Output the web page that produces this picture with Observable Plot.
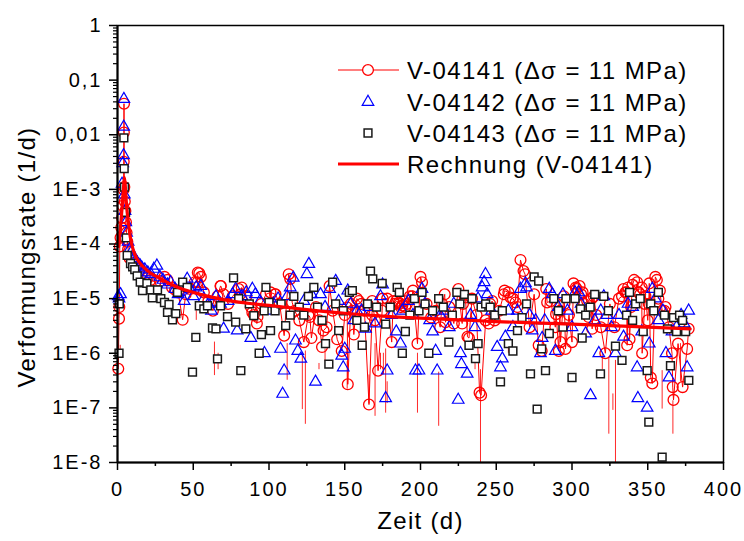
<!DOCTYPE html>
<html><head><meta charset="utf-8">
<script src="https://cdn.jsdelivr.net/npm/d3@7"></script>
<script src="https://cdn.jsdelivr.net/npm/@observablehq/plot@0.6"></script>
<style>
body{margin:0;background:#fff;}
#wrap{position:relative;width:744px;height:541px;}
#legend{position:absolute;left:0;top:0;pointer-events:none;}
svg text{font-family:"Liberation Sans",Arial,sans-serif;}
g[aria-label="x-axis tick label"] text, g[aria-label="y-axis tick label"] text{letter-spacing:2px;}
g[aria-label="text"] text{letter-spacing:1.3px;}
#legend text{letter-spacing:1.4px;font-size:24px;fill:#000;}
</style></head><body><div id="wrap"></div>
<script>
// V-04141 (red circles): [Zeit d, Verformungsrate 1/d]
const v04141 = [[0.5,5.2e-7],[1,4.3e-6],[1.2,7e-6],[1.5,9e-5],[2,1.3e-4],[2.5,2e-4],[3,3e-4],[3.5,5e-4],[4,1e-3],[4.1,3.2e-3],[4.2,1.1e-2],[4.3,3.7e-2],[4.5,1.1e-3],[4.8,6e-4],[5.2,4e-4],[5.6,2.5e-4],[6,1.6e-4],[6.5,1.1e-4],[7,8e-5],[8,5.5e-5],[10,4.5e-5],[12,3.8e-5],[14,3.2e-5],[16,2.8e-5],[18,2.6e-5],[20,2.4e-5],[22,2.2e-5],[25,2e-5],[28,2.1e-5],[31,2.5e-5],[33,2.2e-5],[36,1.6e-5],[38,1.45e-5],[40,1.3e-5],[43,4.1e-6],[45,1.2e-5],[48,1.5e-5],[51,2e-5],[52.8,2e-5],[53,3e-5],[54,2.9e-5],[55,2.5e-5],[57,1.3e-5],[60,9e-6],[63,6e-6],[66,1.1e-5],[68,1.7e-5],[68.2,1.7e-5],[70,1.2e-5],[73,8e-6],[76,1.1e-5],[80,1.5e-5],[81,1.2e-5],[82,1.6e-5],[85,1.1e-5],[88,7e-6],[89,5.6e-6],[90,5e-6],[92,3.5e-6],[92.4,4.6e-6],[95,8e-6],[98,1.2e-5],[101,1.3e-5],[104,1.2e-5],[104.3,1.2e-5],[107,8e-6],[110,2.1e-6],[113,2.8e-5],[114,2.3e-5],[115.3,8.5e-6],[117,6e-6],[120,4e-6],[123,1.6e-6],[126,5e-6],[127,4.6e-6],[128,1.9e-6],[131,7e-6],[133,4e-6],[135,1.3e-6],[136,2.6e-6],[138,3e-6],[140,1.7e-5],[142,6e-6],[145,1.8e-6],[148,1.1e-6],[150,5e-6],[151.6,6.9e-6],[152,2.7e-7],[154,8e-6],[155,6e-6],[156,2.2e-6],[158,1e-5],[159.3,9e-6],[161,8e-6],[163,6e-6],[166,1.15e-7],[168,5e-6],[168.1,9e-6],[170,4e-6],[172,4.8e-7],[174.7,6e-6],[175,1e-5],[178,1e-5],[181,1.6e-6],[182,9e-6],[183,8e-6],[184,9e-6],[185.7,8.5e-6],[186,8e-6],[187,7e-6],[188,7.5e-6],[189,9e-6],[190,7e-6],[191,8e-6],[193,1.1e-5],[194.5,1.1e-5],[195,1.4e-5],[198,1.5e-6],[200,2.5e-5],[201,2e-5],[204,8e-6],[207,4.5e-6],[210,6e-6],[213,3e-6],[214.3,8e-6],[216,1.2e-5],[216.5,3.7e-6],[219,7e-6],[222,3.5e-6],[225,1.5e-5],[227.5,3.5e-6],[228,8e-6],[229.7,1.05e-5],[231,2e-6],[232,1.9e-6],[234,1e-5],[237,5e-6],[239,1.9e-7],[240,1.7e-7],[243,4e-6],[245,3.5e-6],[246,8e-6],[247.3,9e-6],[249,4e-6],[252,6e-6],[255,1.2e-5],[255.5,1.4e-5],[258,1.3e-5],[259.4,1.05e-5],[261,1e-5],[262.7,8.5e-6],[264,7e-6],[266,5.1e-5],[268,3.2e-5],[269,2.8e-5],[272,3e-6],[275,1.2e-5],[278,1.4e-6],[280,1.1e-6],[283,1.5e-5],[283.6,8.5e-6],[286,9e-6],[289,3e-6],[289.5,5.2e-6],[291.3,1.1e-6],[292,6e-6],[292.4,1.6e-6],[294.6,1.1e-5],[295,8e-6],[295.7,1.2e-6],[298,5e-6],[300,1.6e-6],[301,1.9e-5],[302.5,1.6e-5],[303,1.5e-5],[305,1.7e-5],[306,1.2e-5],[307,1.3e-5],[308,8e-6],[310,9e-6],[311,4.6e-6],[313,1e-5],[313.3,2.8e-6],[314.4,1.1e-5],[316,5e-6],[319,3e-6],[322,1e-6],[325,8e-6],[328,3e-6],[331,1e-5],[333,1.1e-5],[334,1.5e-5],[335.3,1.3e-5],[336,1.3e-5],[336.4,1.4e-6],[337,1.6e-5],[338,1.8e-6],[339,7e-6],[340,1.8e-5],[341,2.2e-5],[343,2e-5],[344,1.3e-5],[345,1.2e-5],[346,1.6e-5],[346.3,1e-6],[348,8e-6],[348.5,1.1e-5],[350,4e-6],[350.7,8e-6],[351,1.9e-5],[352,3.6e-7],[353,2.8e-7],[355,2.5e-5],[356,2.2e-5],[357,1e-5],[358,1.4e-5],[359.5,6e-6],[361,6e-6],[361.7,7e-6],[364,3e-6],[366,1e-6],[366.5,2.4e-7],[367,1.4e-7],[370,1.5e-6],[373,2.4e-7],[376,1.2e-6],[377,2.8e-6]];

// V-04142 (blue triangles)
const v04142 = [[0.5,1.1e-5],[1,1e-5],[2,1.2e-5],[3,1.26e-3],[3.5,3e-3],[4,4.2e-3],[4.1,1.4e-2],[4.2,4.5e-2],[4.5,8e-4],[5,4e-4],[5.5,2.5e-4],[6,1.6e-4],[7,1.1e-4],[8,8e-5],[9,7e-5],[10,6e-5],[11,5.5e-5],[12,5e-5],[13,4.6e-5],[14,4.2e-5],[15,4e-5],[16,3.7e-5],[18,3.4e-5],[20,3e-5],[22,2.8e-5],[24,3.5e-5],[26,4e-5],[28,2.5e-5],[30,2.2e-5],[33,1.8e-5],[35,2e-5],[38,1.5e-5],[40,1.2e-5],[42,1.4e-5],[44,9e-6],[46,2.3e-5],[48,1.5e-5],[50,1.1e-5],[52,1.6e-5],[55,1.7e-5],[57,1e-5],[60,8e-6],[62,6e-6],[65,1.1e-5],[68,8e-6],[70,2.8e-6],[73,9e-6],[76,1.2e-5],[78,1.5e-5],[79,2.6e-6],[82,1.1e-5],[85,1.3e-5],[88,1.9e-6],[89,1.5e-5],[91,1.2e-5],[94,9e-6],[97,1e-6],[100,6e-6],[103,8e-6],[106,1e-5],[107.6,1.2e-6],[109,1.8e-7],[110,4.8e-7],[112,1.1e-5],[114,1.6e-5],[116,2.4e-5],[117.5,1.7e-6],[119,1.1e-6],[121,7.9e-7],[123,9e-6],[125,2.8e-5],[126.3,4.3e-5],[128,1.2e-5],[130.7,3e-7],[134,1.2e-5],[137,7e-6],[140,1.5e-5],[144,2.1e-5],[146,9e-6],[148,9e-7],[149,5.5e-7],[150,1.2e-6],[152,1.4e-5],[154,8e-6],[156,4e-6],[158,6e-6],[161,6e-6],[163.7,2.8e-6],[166,7e-6],[170,3.5e-6],[173.6,1.1e-5],[175,1.8e-5],[177,1.5e-7],[178,4.8e-7],[181,5e-6],[184,2.5e-6],[186.8,1.5e-6],[188,6e-6],[192,9e-6],[195,5e-6],[196.7,4.8e-7],[199,4.8e-7],[201,1.5e-5],[203,8e-6],[206,4e-6],[208,2.5e-6],[210,1.1e-6],[211,4.8e-7],[213,5e-6],[216,6e-6],[219,3e-6],[222,8e-6],[224.9,1.4e-7],[226.4,1e-6],[227,6.3e-7],[230.8,4.2e-7],[233,5e-6],[236,3e-6],[238,1e-5],[240.7,1.6e-5],[242,2e-5],[242.9,2.8e-5],[244,1.2e-5],[247,6e-6],[250.6,1.3e-6],[252.8,5.5e-7],[254,8e-7],[256,2e-6],[258,6e-6],[261,3e-6],[264,6e-6],[266,1.5e-5],[269.3,1.9e-5],[270,1.6e-5],[272,5e-6],[273.7,2.6e-6],[276,4e-6],[279.2,1e-6],[280.3,1.9e-6],[282,4e-6],[285,1.5e-5],[287,1.2e-5],[289,1.1e-6],[291,7e-6],[294,1.2e-5],[297,6e-6],[300,3e-6],[302,1.3e-5],[304.5,1.3e-5],[306,8e-6],[309,2.3e-6],[312.2,1.7e-7],[315,4e-6],[317.7,1e-6],[319,6e-6],[321,1.1e-5],[323,5e-6],[326,3e-6],[328.7,1e-6],[331,5e-6],[334,2e-6],[337,8e-6],[340,7e-6],[343,5.5e-7],[343.5,1.5e-7],[346,2.5e-6],[349.6,1e-7],[351,1.5e-6],[353,1.5e-5],[355,1e-5],[357,4e-6],[360,6e-6],[362,1e-6],[364,3.6e-7],[366,2.5e-6],[369,3e-6],[372,5e-6],[374,3.5e-6],[376,5.5e-7],[377,6e-6]];

// V-04143 (black squares)
const v04143 = [[1,1e-6],[1.2,8e-6],[4.2,8.8e-3],[4.4,2.4e-3],[4.6,1.1e-3],[5.3,3.8e-4],[5.8,1.3e-4],[6.4,6.2e-5],[8.6,4.4e-5],[10,3.8e-5],[11.4,3.4e-5],[13,2.6e-5],[15,2e-5],[16.5,1.4e-5],[19.4,1.9e-5],[22,1.45e-5],[23,1.03e-5],[26.4,1.45e-5],[28.6,1e-5],[31,8.5e-6],[33,5.6e-6],[34,7.8e-6],[36.3,4.1e-6],[38.5,5.3e-6],[39.6,1.3e-5],[43,2e-5],[46,1.6e-5],[49.5,4.5e-7],[51.7,1.95e-6],[54,7.4e-6],[57,6.5e-6],[59.4,7.4e-6],[62.7,2.9e-6],[65,2.8e-6],[66,7.9e-7],[68,7.4e-6],[72.6,4.7e-6],[76.6,2.4e-5],[78,3.7e-6],[80,1e-5],[81.4,4.8e-7],[84.7,2.8e-6],[87,8e-6],[90,4.9e-6],[93.5,1e-6],[95,2.2e-6],[96.8,6e-6],[98,1.6e-5],[100,8.5e-6],[101,2.6e-6],[104,6e-6],[108,8e-6],[111,3.2e-6],[114,5e-6],[116.4,1.1e-5],[120,7e-6],[123,5e-6],[126,1.1e-5],[129.6,1.6e-5],[132,7e-6],[135,4e-6],[137.3,1.5e-6],[139.5,6.3e-7],[142,2e-5],[144,8e-6],[146,2.6e-6],[149,6e-6],[153,1.3e-5],[155,1.4e-5],[158,4e-6],[161.5,1.4e-6],[163,3e-6],[165,8e-6],[167,3.2e-5],[168.5,2.3e-5],[171,7e-6],[174.7,1.9e-5],[177,3.4e-6],[180,7e-6],[184.6,1.6e-5],[186,1.3e-5],[188,1e-6],[190,2.5e-6],[193,5e-6],[196,1e-5],[199,6e-6],[201,1.3e-5],[203,8e-6],[205.5,1e-6],[208,6e-6],[212,1e-5],[215,7e-6],[218.7,1.6e-6],[221,5e-6],[224,1.3e-5],[226,8e-6],[229,1.2e-5],[232,1.4e-6],[234,1e-5],[236.3,8e-7],[238,1.5e-6],[240,7e-6],[243,8e-6],[246,7e-6],[249,5e-6],[252.8,3e-7],[254,6e-6],[258,1.5e-6],[261,1.1e-6],[264,2.6e-6],[267,4.5e-6],[270,8e-6],[272.6,4.2e-7],[275,2.5e-5],[277,9.5e-8],[278,2.1e-5],[280,1.2e-6],[282.5,4.8e-7],[285,2.3e-6],[288,1e-5],[291,6e-6],[294,3e-6],[296,1e-5],[300,3.6e-7],[302,1e-5],[305.6,6.5e-6],[306.7,1.9e-6],[309,5e-6],[312,7e-6],[315,1.2e-5],[318.8,4.2e-7],[321,1.1e-5],[324,6e-6],[328.7,1.35e-6],[333,7.4e-7],[336,5e-6],[338,1.3e-5],[340,4e-6],[342,8e-6],[345,1e-5],[347,2.5e-6],[349.6,4.8e-7],[350.7,5.5e-8],[352,8e-6],[354,6e-6],[357,1.3e-5],[359.5,1.25e-8],[361,5e-6],[363,2.8e-6],[365,5.9e-7],[367,4.5e-6],[369,2.5e-6],[371,5e-6],[373,4e-6],[375,2.5e-6],[377.1,3.2e-7]];

// Rechnung (V-04141)
const rechnung = [[0.8,9e-5],[1.5,1.5e-4],[2.5,3e-4],[3.5,7e-4],[4.2,1.3e-3],[4.6,1.65e-3],[5.2,1.1e-3],[6,5e-4],[7,2.7e-4],[8,1.6e-4],[9,1.1e-4],[10,8.5e-5],[11,7e-5],[12.5,5.6e-5],[15,4.4e-5],[20,3.2e-5],[25,2.6e-5],[30,2.2e-5],[35,1.85e-5],[40,1.6e-5],[50,1.3e-5],[60,1.1e-5],[70,9.6e-6],[80,8.6e-6],[90,8e-6],[100,7.5e-6],[125,6.3e-6],[150,5.4e-6],[175,4.8e-6],[200,4.4e-6],[225,4.1e-6],[250,3.8e-6],[275,3.6e-6],[300,3.4e-6],[325,3.2e-6],[350,3e-6],[378,2.8e-6]];

// thin red line segments of V-04141 dropping towards non-positive values: [x, top, bottom]
const spikes = [[1.8,1.4e-6,1e-6],[52,6e-6,4e-6],[64,1.6e-6,3.9e-7],[66.4,1e-6,5e-7],[112,1.5e-6,3.2e-7],[122,1e-6,9.3e-8],[124,1.1e-6,5e-8],[133,6.5e-7,5e-7],[137,1.2e-6,7e-7],[151.6,7e-7,2.2e-7],[166,4e-7,1.2e-7],[170,1.5e-6,7e-8],[173.6,1e-6,5e-7],[175.5,1e-6,4e-7],[177,1.2e-6,8e-8],[178,3e-7,1.2e-7],[198,1e-6,8e-8],[212,4.5e-7,4.6e-8],[236,8e-7,5e-7],[239.6,5e-7,1e-8],[258,1.5e-6,1e-6],[320,1e-6,5e-7],[324.3,8.5e-7,3.3e-8],[327,1.8e-7,9e-8],[328.7,7.4e-7,1e-8],[359.5,4.8e-7,9.5e-8],[366.6,1.35e-7,3.3e-8],[371.6,1.5e-6,3e-7]];

const xTicks = [0,50,100,150,200,250,300,350,400];
const xMinor = [25,75,125,175,225,275,325,375];
const yTicks = [1,0.1,0.01,1e-3,1e-4,1e-5,1e-6,1e-7,1e-8];
const yTickLabels = ["1","0,1","0,01","1E-3","1E-4","1E-5","1E-6","1E-7","1E-8"];
const legendLabels = ["V-04141 (\u0394\u03c3 = 11 MPa)","V-04142 (\u0394\u03c3 = 11 MPa)","V-04143 (\u0394\u03c3 = 11 MPa)","Rechnung (V-04141)"];
const xLabel = "Zeit (d)";
const yLabel = "Verformungsrate (1/d)";

const yLabelMap = new Map(yTicks.map((v,i)=>[v,yTickLabels[i]]));
const yMinor = [];
for (let e = -8; e < 0; e++) for (let k = 2; k <= 9; k++) yMinor.push(+(k * Math.pow(10, e)).toPrecision(3));

const X = d => d[0], Y = d => d[1];
const v04141s = d3.sort(v04141, X);
const chart = Plot.plot({
  width: 744, height: 541,
  marginLeft: 117, marginRight: 21, marginTop: 25, marginBottom: 79,
  x: {domain: [0, 400], axis: null},
  y: {type: "log", domain: [1e-8, 1], axis: null},
  style: {fontFamily: "Liberation Sans, Arial, sans-serif", background: "white", color: "black"},
  marks: [
    Plot.ruleX(spikes, {x: X, y1: d => d[1], y2: d => d[2], stroke: "#ff2a2a", strokeWidth: 1}),
    Plot.line(v04141s, {x: X, y: Y, stroke: "#ff0000", strokeWidth: 1}),
    Plot.dot(v04141s, {x: X, y: Y, r: 5.4, stroke: "#ff0000", strokeWidth: 1.3, fill: "none"}),
    Plot.dot(v04142, {x: X, y: Y, symbol: "triangle", r: 4.3, stroke: "#0000ff", strokeWidth: 1.2, fill: "none"}),
    Plot.dot(v04143, {x: X, y: Y, symbol: "square", r: 4.4, stroke: "#1a1a1a", strokeWidth: 1.5, fill: "white"}),
    Plot.line(rechnung, {x: X, y: Y, curve: "monotone-x", stroke: "#ff0000", strokeWidth: 3.2}),
    Plot.frame({stroke: "black", strokeWidth: 1.5}),
    Plot.axisX(xMinor, {tickSize: 4, tickFormat: () => "", strokeWidth: 1.5}),
    Plot.axisX(xTicks, {tickSize: 8, tickPadding: 11, fontSize: 20, label: null, strokeWidth: 1.5}),
    Plot.axisY(yMinor, {tickSize: 4, tickFormat: () => "", strokeWidth: 1.2}),
    Plot.axisY(yTicks, {tickSize: 8, tickPadding: 7, fontSize: 20, label: null, strokeWidth: 1.5, tickFormat: d => yLabelMap.get(d)}),
    Plot.ruleX([0], {stroke: "black", strokeWidth: 2}),
    Plot.ruleY([1e-8], {stroke: "black", strokeWidth: 2}),
    Plot.text([xLabel], {frameAnchor: "bottom", dy: 66, fontSize: 24}),
    Plot.text([yLabel], {frameAnchor: "left", textAnchor: "middle", rotate: -90, dx: -90, dy: 13, fontSize: 24})
  ]
});
const wrap = document.getElementById("wrap");
wrap.appendChild(chart);

// legend overlay
const lg = d3.select(wrap).append("svg").attr("id","legend").attr("width",744).attr("height",541);
const rows = [70, 102, 133, 164];
const sx0 = 338, sx1 = 399, sxc = 368, tx = 407;
lg.append("line").attr("x1",sx0).attr("x2",sx1).attr("y1",rows[0]).attr("y2",rows[0]).attr("stroke","#ff0000").attr("stroke-width",1);
lg.append("circle").attr("cx",sxc).attr("cy",rows[0]).attr("r",5.4).attr("fill","white").attr("stroke","#ff0000").attr("stroke-width",1.3);
lg.append("path").attr("d", d3.symbol(d3.symbolTriangle, 4.3*4.3*Math.PI)()).attr("transform",`translate(${sxc},${rows[1]})`).attr("fill","none").attr("stroke","#0000ff").attr("stroke-width",1.2);
lg.append("path").attr("d", d3.symbol(d3.symbolSquare, 4.4*4.4*Math.PI)()).attr("transform",`translate(${sxc},${rows[2]})`).attr("fill","white").attr("stroke","#1a1a1a").attr("stroke-width",1.5);
lg.append("line").attr("x1",sx0).attr("x2",sx1).attr("y1",rows[3]).attr("y2",rows[3]).attr("stroke","#ff0000").attr("stroke-width",3.2);
legendLabels.forEach((t,i) => {
  lg.append("text").attr("x",tx).attr("y",rows[i]+8.5).text(t);
});
</script></body></html>
